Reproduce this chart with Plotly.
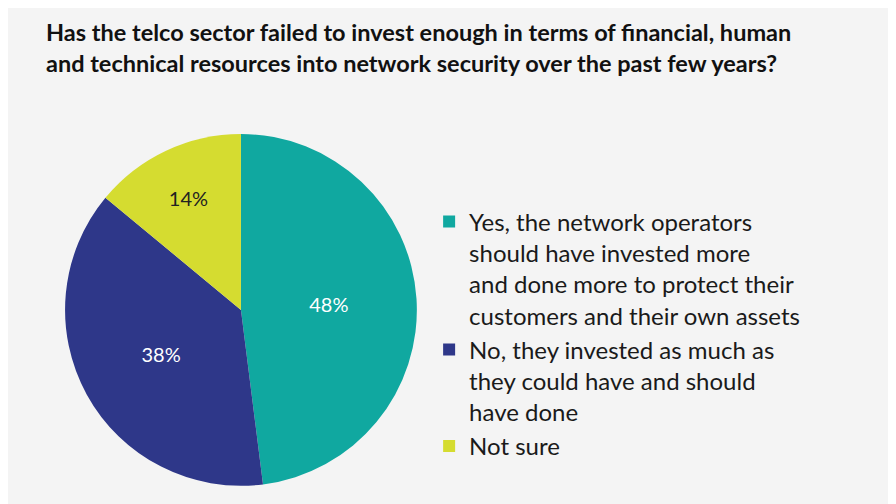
import plotly.graph_objects as go

# --- DATA ---
labels = [
    "Yes, the network operators<br>should have invested more<br>and done more to protect their<br>customers and their own assets",
    "No, they invested as much as<br>they could have and should<br>have done",
    "Not sure",
]
values = [48, 38, 14]
colors = ["#10A8A0", "#2E3789", "#D5DC30"]
text_colors = ["white", "white", "#222222"]

fig = go.Figure()
fig.add_trace(go.Pie(
    labels=labels,
    values=values,
    sort=False,
    direction="clockwise",
    rotation=0,
    marker=dict(colors=colors),
    texttemplate="%{value}%",
    textposition="inside",
    insidetextorientation="horizontal",
    textfont=dict(family="Lato", size=20, color=text_colors),
    domain=dict(x=[0.05, 0.47], y=[0.052, 0.75]),
    hoverinfo="label+percent",
))

fig.add_annotation(
    text="<b>Has the telco sector failed to invest enough in terms of financial, human<br>and technical resources into network security over the past few years?</b>",
    xref="paper", yref="paper", x=0.04, y=0.985, xanchor="left", yanchor="top",
    align="left", showarrow=False,
    font=dict(family="Lato", size=23.5, color="#111111"),
)

fig.update_layout(
    width=896, height=504,
    margin=dict(l=0, r=0, t=0, b=0),
    paper_bgcolor="#F4F4F4",
    plot_bgcolor="#F4F4F4",
    legend=dict(
        x=0.47, y=0.62, xanchor="left", yanchor="top",
        valign="top",
        font=dict(family="Lato", size=24, color="#1a1a1a"),
        itemsizing="constant", tracegroupgap=14,
        bgcolor="rgba(0,0,0,0)",
    ),
)

fig.write_html("out.html")
